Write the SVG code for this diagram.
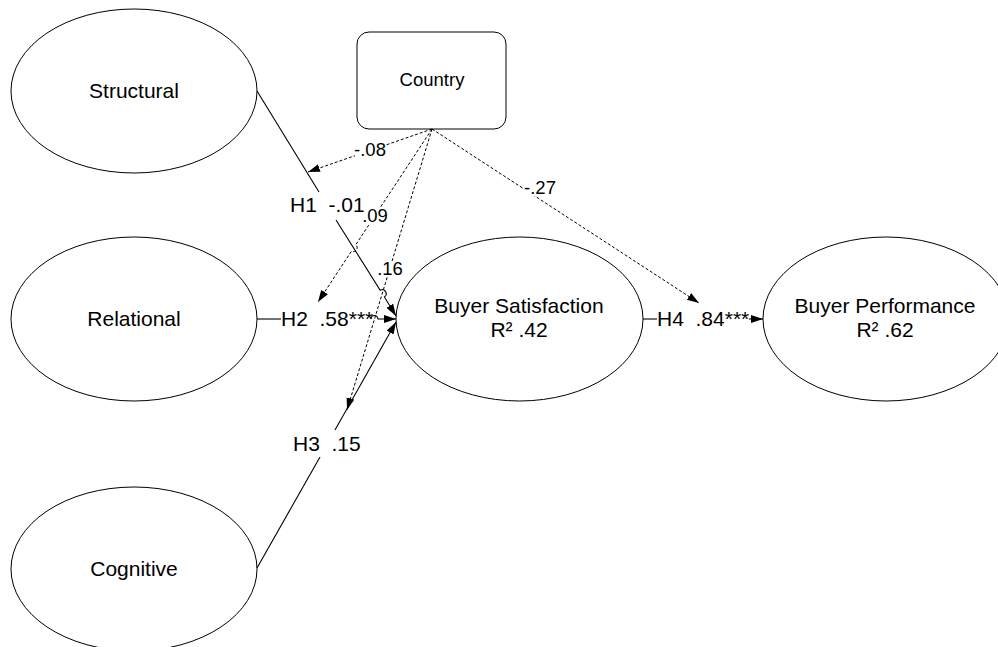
<svg xmlns="http://www.w3.org/2000/svg" width="998" height="647" viewBox="0 0 998 647">
  <defs>
    <marker id="arrow" markerUnits="userSpaceOnUse" markerWidth="13" markerHeight="9" refX="12" refY="4" orient="auto">
      <path d="M0,0 L12,4 L0,8 z" fill="#000"/>
    </marker>
    <style>
      .node ellipse, .node rect { fill: #fff; stroke: #000; stroke-width: 1; }
      .lbl { font-family: "Liberation Sans", Arial, sans-serif; font-size: 21px; fill: #000; }
      .small { font-size: 18.5px; }
      .solid { fill: none; stroke: #000; stroke-width: 1.1; }
      .dash { fill: none; stroke: #000; stroke-width: 1; stroke-dasharray: 3 2; }
      .bg { fill: #fff; stroke: none; }
    </style>
  </defs>

  <rect width="998" height="647" fill="#fff"/>

  <!-- constructs -->
  <g id="structural" class="node">
    <ellipse cx="134" cy="91" rx="123" ry="82"/>
    <text class="lbl" x="134" y="98" text-anchor="middle">Structural</text>
  </g>
  <g id="relational" class="node">
    <ellipse cx="134" cy="319" rx="123" ry="82"/>
    <text class="lbl" x="134" y="326" text-anchor="middle">Relational</text>
  </g>
  <g id="cognitive" class="node">
    <ellipse cx="134" cy="569" rx="123" ry="82"/>
    <text class="lbl" x="134" y="576" text-anchor="middle">Cognitive</text>
  </g>
  <g id="country" class="node">
    <rect x="357" y="32" width="149" height="97" rx="12" ry="12"/>
    <text class="lbl small" x="432" y="86" text-anchor="middle">Country</text>
  </g>
  <g id="buyer-satisfaction" class="node">
    <ellipse cx="519.5" cy="319" rx="123.5" ry="82"/>
    <text class="lbl" x="519" y="313" text-anchor="middle">Buyer Satisfaction</text>
    <text class="lbl" x="519" y="337" text-anchor="middle">R² .42</text>
  </g>
  <g id="buyer-performance" class="node">
    <ellipse cx="886" cy="319" rx="123" ry="82"/>
    <text class="lbl" x="885" y="313" text-anchor="middle">Buyer Performance</text>
    <text class="lbl" x="885" y="337" text-anchor="middle">R² .62</text>
  </g>

  <!-- paths and moderation links -->
  <g id="connectors">
    <!-- H1: Structural -> Buyer Satisfaction (hops over the .16 link) -->
    <path class="solid" d="M257,91 L319,192"/>
    <path class="solid" d="M336,220 L380.2,290.2 A4,4 0 0 1 384.4,297 L396,316" marker-end="url(#arrow)"/>
    <text class="lbl" x="290" y="212" xml:space="preserve">H1  -.01</text>

    <!-- H2: Relational -> Buyer Satisfaction -->
    <path class="solid" d="M257,319 L281,319"/>
    <path class="solid" d="M371,319 A3.5,3.5 0 0 1 378,319 L396,319" marker-end="url(#arrow)"/>
    <text class="lbl" x="281" y="326" xml:space="preserve">H2  .58***</text>

    <!-- H3: Cognitive -> Buyer Satisfaction -->
    <path class="solid" d="M257,568 L320,457"/>
    <path class="solid" d="M335,430 L396,322" marker-end="url(#arrow)"/>
    <text class="lbl" x="293" y="451" xml:space="preserve">H3  .15</text>

    <!-- H4: Buyer Satisfaction -> Buyer Performance -->
    <path class="solid" d="M643,319 L657,319"/>
    <path class="solid" d="M749,319 L763,319" marker-end="url(#arrow)"/>
    <text class="lbl" x="657" y="326" xml:space="preserve">H4  .84***</text>

    <!-- Country moderation links -->
    <path class="dash" d="M432,129 L308,172" marker-end="url(#arrow)"/>
    <path class="dash" d="M432,129 L355.8,244.7 A4,4 0 0 1 351.4,251.3 L318,302" marker-end="url(#arrow)"/>
    <path class="dash" d="M432,129 L347,410" marker-end="url(#arrow)"/>
    <path class="dash" d="M432,129 L699,303" marker-end="url(#arrow)"/>

    <rect class="bg" x="355" y="142" width="31" height="16"/>
    <text class="lbl small" x="370" y="156" text-anchor="middle">-.08</text>
    <rect class="bg" x="364" y="208" width="24" height="16"/>
    <text class="lbl small" x="375" y="222" text-anchor="middle">.09</text>
    <rect class="bg" x="378" y="261" width="24" height="16"/>
    <text class="lbl small" x="390" y="275" text-anchor="middle">.16</text>
    <rect class="bg" x="524" y="180" width="32" height="16"/>
    <text class="lbl small" x="540" y="194" text-anchor="middle">-.27</text>
  </g>
</svg>
